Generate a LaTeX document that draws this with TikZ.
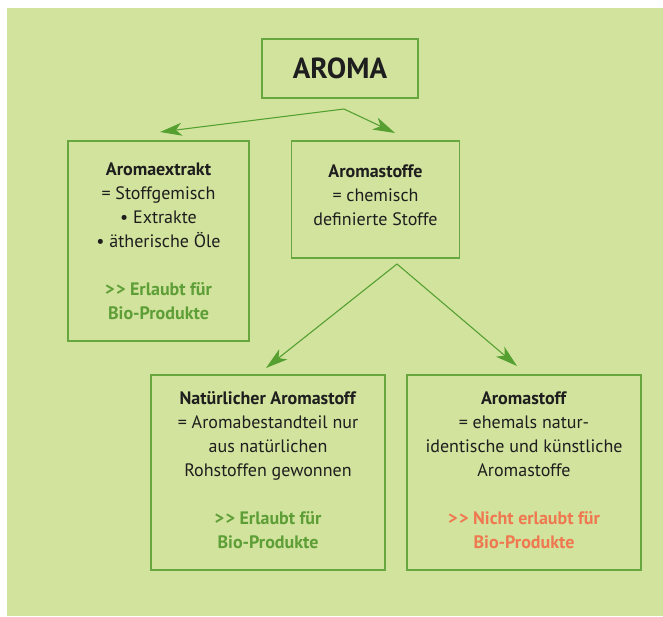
\documentclass[tikz,border=0pt]{standalone}
\usepackage{fontspec}
\setmainfont{PT Sans}
\usetikzlibrary{arrows.meta}
\definecolor{bg}{HTML}{D1E39D}
\definecolor{frame}{HTML}{68A640}
\definecolor{arrgreen}{HTML}{56A032}
\definecolor{okgreen}{HTML}{5E9E37}
\definecolor{nored}{HTML}{F07850}
\definecolor{ink}{HTML}{1E1E1E}
\tikzset{
  box/.style={draw=frame, line width=1.3pt, inner sep=0pt, align=center, text=ink,
    font=\fontsize{18}{24}\selectfont},
  arr/.style={draw=arrgreen, line width=1.1pt, -{Stealth[length=22pt, width=13pt, inset=6pt]}},
}
\newcommand{\gt}{{>}\kern1.5pt{>}\ }
\newcommand{\okt}[1]{\textcolor{okgreen}{\bfseries #1}}
\newcommand{\nokt}[1]{\textcolor{nored}{\bfseries #1}}
\begin{document}
\begin{tikzpicture}[x=1pt,y=-1pt]
\useasboundingbox (0,0) rectangle (663,616);
\fill[bg] (7,8) rectangle (663,616);
\node[box, minimum width=156pt, minimum height=59pt, font=\fontsize{29}{30}\selectfont\bfseries] (aroma) at (340,68.5) {AROMA};
\node[box, minimum width=181pt, minimum height=200pt] (extrakt) at (158.5,241)
  {\textbf{Aromaextrakt}\\= Stoffgemisch\\• Extrakte\\• ätherische Öle\\[24pt]\okt{\gt Erlaubt für}\\\okt{Bio-Produkte}};
\node[box, minimum width=168pt, minimum height=117pt] (stoffe) at (375.5,199.5)
  {\textbf{Aromastoffe}\\= chemisch\\definierte Stoffe\\[-15pt]};
\node[box, minimum width=234pt, minimum height=195pt] (natur) at (268,472.5)
  {\textbf{Natürlicher Aromastoff}\\= Aromabestandteil nur\\aus natürlichen\\Rohstoffen gewonnen\\[24pt]\okt{\gt Erlaubt für}\\\okt{Bio-Produkte}\\[-20pt]};
\node[box, minimum width=234pt, minimum height=195pt] (kunst) at (524,472.5)
  {\textbf{Aromastoff}\\= ehemals natur-\\identische und künstliche\\Aromastoffe\\[24pt]\nokt{\gt Nicht erlaubt für}\\\nokt{Bio-Produkte}\\[-20pt]};
\coordinate (a1) at (344,109);
\coordinate (t1) at (160,132);
\coordinate (t2) at (395,133);
\coordinate (a2) at (397,264);
\coordinate (t3) at (266,368);
\coordinate (t4) at (517,366);
\draw[arr] (a1) -- (t1);
\draw[arr] (a1) -- (t2);
\draw[arr] (a2) -- (t3);
\draw[arr] (a2) -- (t4);
\end{tikzpicture}
\end{document}
